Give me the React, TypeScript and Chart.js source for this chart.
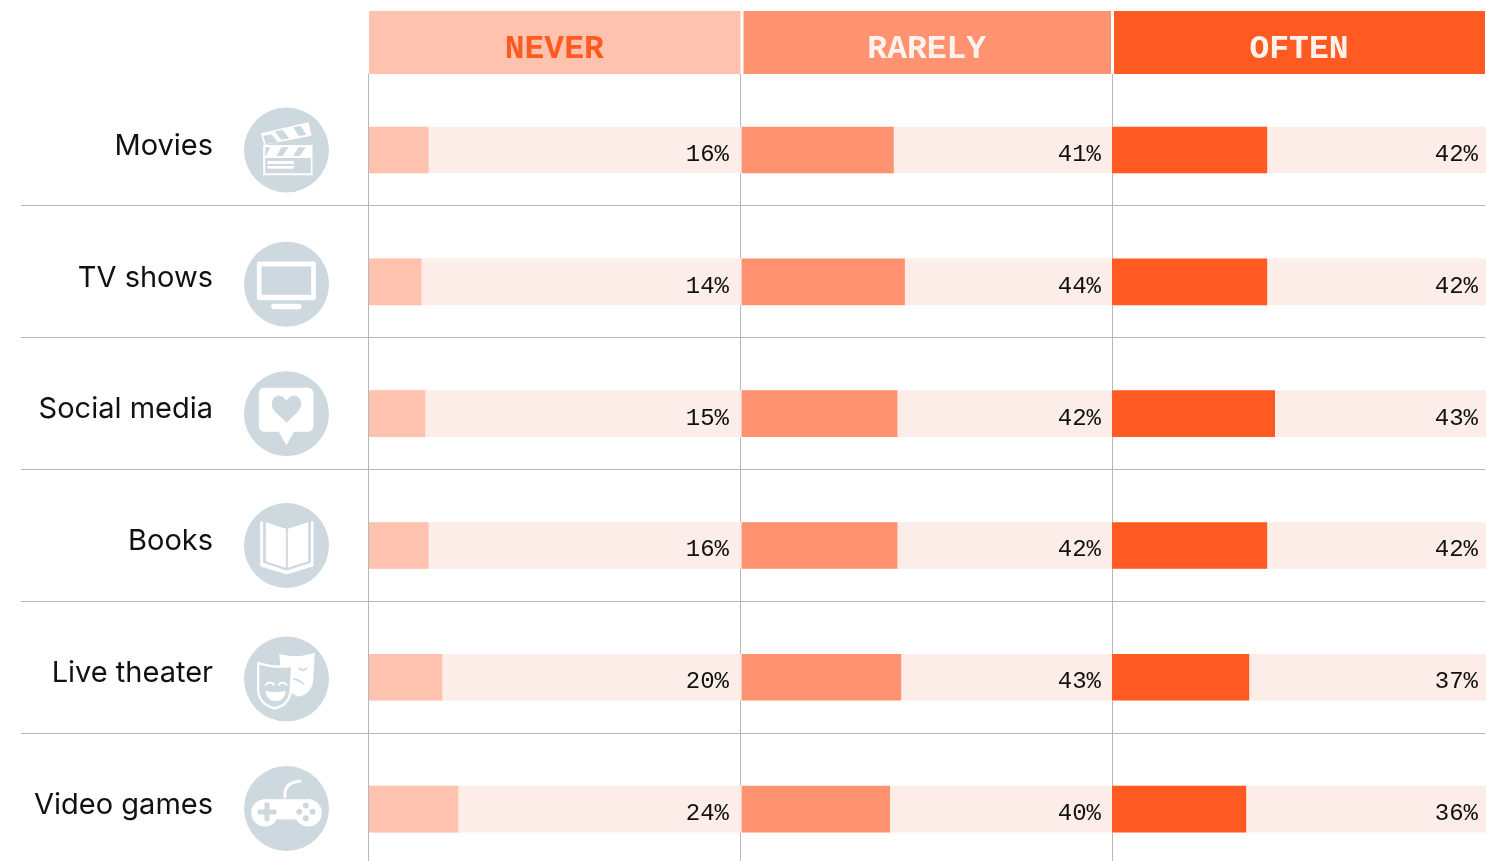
import React, { useEffect, useRef } from "react";
import { Chart, registerables } from "chart.js";

Chart.register(...registerables);

const categories = ["Movies", "TV shows", "Social media", "Books", "Live theater", "Video games"];
const iconKeys = ["movie", "tv", "social", "book", "theater", "game"];
const columns = ["NEVER", "RARELY", "OFTEN"];

const neverValues = [15.9, 14, 15, 15.9, 19.6, 23.9];
const rarelyValues = [41, 44, 42, 42, 43, 40];
const oftenValues = [41.4, 41.4, 43.5, 41.4, 36.6, 35.8];
const track = [100, 100, 100, 100, 100, 100];

const neverLabels = ["16%", "14%", "15%", "16%", "20%", "24%"];
const rarelyLabels = ["41%", "44%", "42%", "42%", "43%", "40%"];
const oftenLabels = ["42%", "42%", "43%", "42%", "37%", "36%"];

const colors = ["#FFC2AF", "#FF9270", "#FF5A22"];
const trackColor = "#FDEDE9";
const iconBg = "#CDD8DF";
const lineColor = "#B8B8B8";
const textColor = "#111111";
const headerText = ["#FF5A22", "#FFF1EC", "#FFF1EC"];
const labelFont = "Inter, 'Liberation Sans', sans-serif";
const monoFont = "'Liberation Mono', monospace";

const iconCentersOffset = [0, 2.3, 0, 0, 1.8, -0.6];

function poly(ctx: CanvasRenderingContext2D, pts: number[][], fill: string) {
  ctx.beginPath();
  pts.forEach((p, i) => (i ? ctx.lineTo(p[0], p[1]) : ctx.moveTo(p[0], p[1])));
  ctx.closePath();
  ctx.fillStyle = fill;
  ctx.fill();
}
function rrect(ctx: CanvasRenderingContext2D, x0: number, y0: number, x1: number, y1: number, r: number, fill: string) {
  ctx.beginPath();
  ctx.roundRect(x0, y0, x1 - x0, y1 - y0, r);
  ctx.fillStyle = fill;
  ctx.fill();
}
function dot(ctx: CanvasRenderingContext2D, x: number, y: number, r: number, fill: string) {
  ctx.beginPath();
  ctx.arc(x, y, r, 0, Math.PI * 2);
  ctx.fillStyle = fill;
  ctx.fill();
}

// icons are sketched in a 3x local space, relative to the circle centre
function drawIcon(ctx: CanvasRenderingContext2D, key: string) {
  const W = "#FFFFFF";
  const G = iconBg;
  ctx.lineCap = "round";
  ctx.lineJoin = "round";
  if (key === "movie") {
    poly(ctx, [[-77, -50], [66, -83], [75, -43], [-67, -15]], W);
    poly(ctx, [[-70, -42], [-47, -47], [-25, -24], [-62, -17]], G);
    poly(ctx, [[-35, -56], [-12, -60], [8, -35], [-15, -30]], G);
    poly(ctx, [[20, -68], [42, -73], [60, -46], [37, -42]], G);
    rrect(ctx, -70, -15, 78, 76, 0, W);
    rrect(ctx, -64, 24, 73, 70, 0, G);
    poly(ctx, [[-64, -8], [-48, -8], [-62, 18], [-64, 18]], G);
    poly(ctx, [[-15, -8], [6, -8], [-12, 18], [-30, 18]], G);
    poly(ctx, [[36, -8], [58, -8], [40, 18], [20, 18]], G);
    rrect(ctx, -57, 33, 22, 42, 0, W);
    rrect(ctx, -57, 48, 22, 56, 0, W);
  } else if (key === "tv") {
    rrect(ctx, -89, -68, 88, 48, 7, W);
    rrect(ctx, -75, -53, 74, 32, 0, G);
    rrect(ctx, -46, 59, 45, 75, 8, W);
  } else if (key === "social") {
    ctx.beginPath();
    ctx.roundRect(-83, -78, 164, 132, 16);
    ctx.fillStyle = W;
    ctx.fill();
    poly(ctx, [[-26, 50], [25, 50], [0, 95]], W);
    ctx.beginPath();
    ctx.moveTo(0, 27);
    ctx.bezierCurveTo(-22, 5, -44, -8, -44, -28);
    ctx.bezierCurveTo(-44, -62, -8, -60, 0, -37);
    ctx.bezierCurveTo(8, -60, 44, -62, 44, -28);
    ctx.bezierCurveTo(44, -8, 22, 5, 0, 27);
    ctx.closePath();
    ctx.fillStyle = G;
    ctx.fill();
  } else if (key === "book") {
    poly(ctx, [[-62, -70], [-2, -50], [-2, 67], [-62, 48]], W);
    poly(ctx, [[4, -50], [65, -70], [65, 48], [4, 67]], W);
    poly(ctx, [[-79, -72], [-70, -72], [-70, 52], [0, 75], [73, 52], [73, -72], [81, -72], [81, 62], [0, 87], [-79, 62]], W);
  } else if (key === "theater") {
    // back mask
    ctx.beginPath();
    ctx.moveTo(-22, -75);
    ctx.quadraticCurveTo(35, -60, 85, -80);
    ctx.lineTo(80, 5);
    ctx.quadraticCurveTo(75, 45, 35, 53);
    ctx.lineTo(-10, 30);
    ctx.closePath();
    ctx.fillStyle = W;
    ctx.fill();
    ctx.strokeStyle = G;
    ctx.lineWidth = 5;
    ctx.beginPath();
    ctx.moveTo(38, -32);
    ctx.quadraticCurveTo(48, -22, 60, -32);
    ctx.stroke();
    ctx.beginPath();
    ctx.moveTo(22, 0);
    ctx.quadraticCurveTo(38, 2, 50, 14);
    ctx.stroke();
    // front mask
    ctx.beginPath();
    ctx.moveTo(-85, -48);
    ctx.quadraticCurveTo(-35, -32, 17, -40);
    ctx.lineTo(12, 40);
    ctx.quadraticCurveTo(5, 80, -35, 88);
    ctx.quadraticCurveTo(-82, 75, -85, 35);
    ctx.closePath();
    ctx.fillStyle = G;
    ctx.fill();
    ctx.strokeStyle = W;
    ctx.lineWidth = 7;
    ctx.stroke();
    ctx.lineWidth = 6;
    ctx.beginPath();
    ctx.moveTo(-62, 17);
    ctx.quadraticCurveTo(-50, 4, -38, 17);
    ctx.stroke();
    ctx.beginPath();
    ctx.moveTo(-23, 17);
    ctx.quadraticCurveTo(-11, 4, 0, 17);
    ctx.stroke();
    ctx.beginPath();
    ctx.moveTo(-63, 35);
    ctx.quadraticCurveTo(-33, 42, -2, 35);
    ctx.quadraticCurveTo(-5, 66, -33, 66);
    ctx.quadraticCurveTo(-60, 66, -63, 35);
    ctx.closePath();
    ctx.fillStyle = W;
    ctx.fill();
  } else if (key === "game") {
    ctx.strokeStyle = W;
    ctx.lineWidth = 9;
    ctx.beginPath();
    ctx.moveTo(-5, -35);
    ctx.quadraticCurveTo(-8, -78, 40, -82);
    ctx.stroke();
    dot(ctx, -65, 13, 41, W);
    dot(ctx, 65, 13, 41, W);
    ctx.beginPath();
    ctx.moveTo(-72, -28);
    ctx.lineTo(72, -28);
    ctx.lineTo(72, 10);
    ctx.quadraticCurveTo(30, 22, 25, 33);
    ctx.lineTo(-25, 33);
    ctx.quadraticCurveTo(-30, 22, -72, 10);
    ctx.closePath();
    ctx.fillStyle = W;
    ctx.fill();
    rrect(ctx, -86, 3, -30, 18, 4, G);
    rrect(ctx, -66, -18, -51, 38, 4, G);
    dot(ctx, 58, -9, 9, G);
    dot(ctx, 38, 10, 9, G);
    dot(ctx, 78, 10, 9, G);
    dot(ctx, 58, 29, 9, G);
  }
}

const tablePlugin = {
  id: "tablePlugin",
  beforeDatasetsDraw(chart: any) {
    const { ctx, scales } = chart;
    const y = scales.y;
    const axes = [scales.x1, scales.x2, scales.x3];
    ctx.save();
    // header cells
    axes.forEach((ax: any, i: number) => {
      ctx.fillStyle = colors[i];
      const l = i === 0 ? ax.left : ax.left + 2;
      const r = ax.right - 1;
      ctx.fillRect(l, 11, r - l, 63);
      ctx.fillStyle = headerText[i];
      ctx.font = `bold 33px ${monoFont}`;
      ctx.textAlign = "center";
      ctx.textBaseline = "alphabetic";
      ctx.fillText(columns[i], (l + r) / 2 - 0.5, 58);
    });
    // rules
    ctx.strokeStyle = lineColor;
    ctx.lineWidth = 1;
    axes.forEach((ax: any) => {
      const x = Math.floor(ax.left) + 0.5 - (ax.left < 800 ? 1 : 0);
      ctx.beginPath();
      ctx.moveTo(x, 74);
      ctx.lineTo(x, chart.height);
      ctx.stroke();
    });
    for (let i = 0; i < categories.length - 1; i++) {
      const yy = Math.round(y.getPixelForValue(i) + 55.3) + 0.5;
      ctx.beginPath();
      ctx.moveTo(21, yy);
      ctx.lineTo(1485, yy);
      ctx.stroke();
    }
    // icons
    categories.forEach((_, i) => {
      const cy = y.getPixelForValue(i) + iconCentersOffset[i];
      dot(ctx, 286.5, cy, 42.5, iconBg);
      ctx.save();
      ctx.translate(286.5, cy);
      ctx.scale(1 / 3, 1 / 3);
      drawIcon(ctx, iconKeys[i]);
      ctx.restore();
    });
    ctx.restore();
  },
  afterDatasetsDraw(chart: any) {
    const { ctx, scales } = chart;
    const y = scales.y;
    const sets = [neverLabels, rarelyLabels, oftenLabels];
    const axes = [scales.x1, scales.x2, scales.x3];
    const insets = [12.5, 11, 8];
    ctx.save();
    ctx.font = `24px ${monoFont}`;
    ctx.fillStyle = textColor;
    ctx.textAlign = "right";
    ctx.textBaseline = "alphabetic";
    sets.forEach((labels, c) => {
      labels.forEach((t, i) => {
        ctx.fillText(t, axes[c].right - insets[c], y.getPixelForValue(i) + 11);
      });
    });
    ctx.restore();
  },
};

export default function App() {
  const ref = useRef<HTMLCanvasElement>(null);
  useEffect(() => {
    document.body.style.margin = "0";
    const xAxis = (weight: number) => ({
      type: "linear",
      position: "bottom",
      stack: "cols",
      stackWeight: weight,
      display: false,
      min: 0,
      max: 100,
    });
    const chart = new Chart(ref.current as HTMLCanvasElement, {
      type: "bar",
      plugins: [tablePlugin],
      data: {
        labels: categories,
        datasets: [
          { label: "Never", data: neverValues, xAxisID: "x1", backgroundColor: colors[0], order: 1 },
          { label: "Rarely", data: rarelyValues, xAxisID: "x2", backgroundColor: colors[1], order: 1 },
          { label: "Often", data: oftenValues, xAxisID: "x3", backgroundColor: colors[2], order: 1 },
          { label: "Never track", data: track, xAxisID: "x1", backgroundColor: trackColor, order: 2 },
          { label: "Rarely track", data: track, xAxisID: "x2", backgroundColor: trackColor, order: 2 },
          { label: "Often track", data: track, xAxisID: "x3", backgroundColor: trackColor, order: 2 },
        ],
      },
      options: {
        indexAxis: "y",
        responsive: false,
        animation: false,
        grouped: false,
        barThickness: 46,
        layout: { padding: { top: 84.1, left: 0, right: 0, bottom: 0 } },
        plugins: { legend: { display: false }, tooltip: { enabled: false }, title: { display: false } },
        scales: {
          x1: xAxis(372.5),
          x2: xAxis(370.5),
          x3: xAxis(374),
          y: {
            type: "category",
            position: "left",
            afterFit: (s: any) => {
              s.width = 369;
              s.paddingTop = 0;
              s.paddingBottom = 0;
            },
            grid: { display: true, drawOnChartArea: false, drawTicks: true, tickLength: 156, tickColor: "rgba(0,0,0,0)" },
            border: { display: false },
            ticks: {
              autoSkip: false,
              padding: 0,
              labelOffset: -4,
              color: textColor,
              font: { family: labelFont, size: 29 },
            },
          },
        },
      },
    } as any);
    return () => chart.destroy();
  }, []);
  return (
    <div style={{ width: 1486, height: 861, overflow: "hidden" }}>
      <canvas ref={ref} width={1486} height={875} style={{ display: "block" }} />
    </div>
  );
}
